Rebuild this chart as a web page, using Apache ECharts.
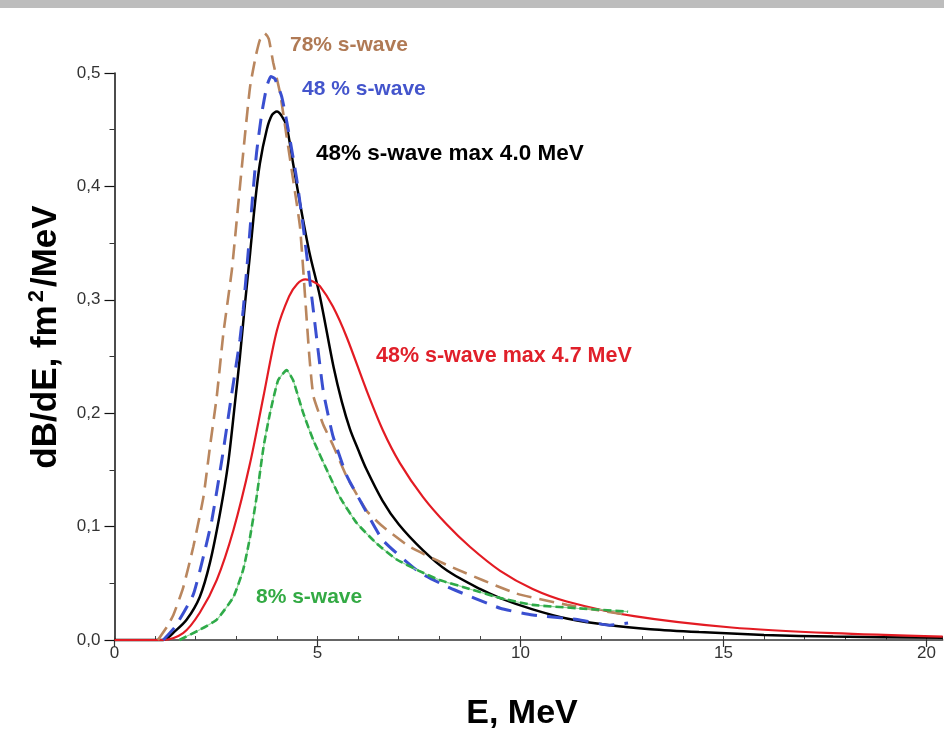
<!DOCTYPE html>
<html><head><meta charset="utf-8">
<script src="https://cdn.jsdelivr.net/npm/echarts@6/dist/echarts.min.js"></script>
<style>html,body{margin:0;padding:0;background:#fff}#c{width:944px;height:750px}</style>
</head><body><div id="c"></div>
<script>
// ---- data (E in MeV, dB/dE in fm^2/MeV) ----
const xTicks = [0, 5, 10, 15, 20];
const yTicks = [0, 0.1, 0.2, 0.3, 0.4, 0.5];

const blackE = [0, 1.2, 1.5, 1.78, 2.1, 2.35, 2.6, 2.8, 2.97, 3.09, 3.21, 3.34, 3.46, 3.58, 3.75, 3.88, 4.0, 4.12, 4.24, 4.4, 4.57, 4.8, 5.06, 5.4, 5.6, 5.8, 6.0, 6.2, 6.6, 7.0, 7.6, 8.2, 9.0, 9.5, 10.3, 11.14, 12.2, 13.2, 14.4, 16, 17.7, 20.4];
const blackV = [0, 0, 0.008, 0.018, 0.038, 0.068, 0.112, 0.156, 0.21, 0.25, 0.295, 0.341, 0.385, 0.42, 0.45, 0.463, 0.466, 0.462, 0.453, 0.42, 0.385, 0.342, 0.303, 0.24, 0.21, 0.186, 0.168, 0.151, 0.123, 0.102, 0.079, 0.061, 0.045, 0.037, 0.027, 0.019, 0.013, 0.0095, 0.007, 0.0045, 0.003, 0.002];

const redE = [0, 1.2, 1.69, 2.1, 2.52, 2.93, 3.34, 3.67, 4.0, 4.3, 4.5, 4.7, 4.9, 5.06, 5.38, 5.72, 6.21, 6.61, 7.03, 7.6, 8.18, 8.76, 9.5, 10.3, 11.14, 12.8, 15.2, 17.7, 20.4];
const redV = [0, 0, 0.006, 0.024, 0.053, 0.097, 0.156, 0.215, 0.273, 0.303, 0.314, 0.318, 0.316, 0.312, 0.294, 0.267, 0.22, 0.185, 0.156, 0.126, 0.102, 0.082, 0.061, 0.045, 0.034, 0.021, 0.011, 0.006, 0.003];

const brownE = [1.07, 1.3, 1.45, 1.69, 1.94, 2.19, 2.35, 2.52, 2.68, 2.89, 3.05, 3.21, 3.34, 3.48, 3.58, 3.7, 3.8, 3.91, 4.08, 4.24, 4.4, 4.57, 4.7, 4.8, 4.9, 5.14, 5.38, 5.72, 6.21, 6.61, 7.28, 8.26, 9.9, 11.14, 12.65];
const brownV = [0, 0.012, 0.022, 0.046, 0.082, 0.126, 0.17, 0.215, 0.27, 0.326, 0.385, 0.444, 0.488, 0.515, 0.529, 0.535, 0.53, 0.509, 0.482, 0.444, 0.406, 0.364, 0.3, 0.25, 0.215, 0.19, 0.172, 0.144, 0.114, 0.1, 0.082, 0.065, 0.041, 0.031, 0.022];

const blueE = [1.2, 1.5, 1.94, 2.2, 2.4, 2.65, 2.9, 3.09, 3.17, 3.3, 3.4, 3.5, 3.63, 3.75, 3.85, 3.95, 4.12, 4.28, 4.49, 4.65, 4.77, 4.9, 5.14, 5.38, 5.72, 6.05, 6.61, 7.5, 8.26, 9.5, 10.3, 11.4, 12.2, 12.65];
const blueV = [0, 0.012, 0.04, 0.075, 0.106, 0.16, 0.22, 0.265, 0.291, 0.345, 0.39, 0.43, 0.465, 0.488, 0.497, 0.495, 0.479, 0.45, 0.406, 0.364, 0.329, 0.29, 0.22, 0.18, 0.145, 0.123, 0.088, 0.06, 0.046, 0.028, 0.022, 0.018, 0.013, 0.015];

const greenE = [1.6, 2.1, 2.52, 2.93, 3.17, 3.34, 3.5, 3.67, 3.83, 4.03, 4.24, 4.4, 4.65, 4.9, 5.23, 5.55, 5.97, 6.46, 6.95, 7.5, 8.0, 8.75, 9.5, 10.3, 11.4, 12.65];
const greenV = [0, 0.009, 0.018, 0.038, 0.062, 0.091, 0.126, 0.17, 0.2, 0.229, 0.238, 0.229, 0.2, 0.176, 0.15, 0.126, 0.103, 0.085, 0.071, 0.061, 0.053, 0.045, 0.037, 0.031, 0.028, 0.025];

const labels = ["78% s-wave", "48 % s-wave", "48% s-wave max 4.0 MeV", "48% s-wave max 4.7 MeV", "8% s-wave"];
const xTitle = "E, MeV";
const yTitleParts = ["dB/dE, fm", "2", "/MeV"];

const zip = (a, b) => a.map((x, i) => [x, b[i]]);

const FONT = "'Liberation Sans', Arial, sans-serif";
const chart = echarts.init(document.getElementById('c'));
const xMin = 0, xMax = 20.4;

const option = {
  animation: false,
  backgroundColor: '#fff',
  grid: { left: 114.5, right: 944 - 114.5 - 828.2, top: 73, bottom: 110, containLabel: false },
  xAxis: [{
    type: 'value', min: xMin, max: xMax, interval: 5,
    axisLine: { show: true, onZero: false, lineStyle: { color: '#333', width: 1.5 } },
    axisTick: { show: true, inside: false, length: 7, lineStyle: { color: '#333', width: 1.2 } },
    minorTick: { show: false },
    splitLine: { show: false },
    axisLabel: { margin: 5, showMaxLabel: false, color: '#333', fontSize: 17, fontFamily: FONT,
      formatter: v => xTicks.includes(v) ? String(v) : '' }
  }, {
    type: 'value', min: xMin, max: xMax, interval: 1, position: 'bottom',
    axisLine: { show: false },
    axisTick: { show: true, inside: true, length: 4, lineStyle: { color: '#444', width: 1 } },
    splitLine: { show: false },
    axisLabel: { show: false }
  }],
  yAxis: [{
    type: 'value', min: 0, max: 0.5, interval: 0.1,
    axisLine: { show: true, lineStyle: { color: '#111', width: 1.5 } },
    axisTick: { show: true, inside: false, length: 10, lineStyle: { color: '#111', width: 1.2 } },
    minorTick: { show: true, splitNumber: 2, length: 5, lineStyle: { color: '#333', width: 1 } },
    splitLine: { show: false },
    axisLabel: { margin: 14, color: '#333', fontSize: 17, fontFamily: FONT,
      formatter: v => yTicks.some(t => Math.abs(t - v) < 1e-9) ? v.toFixed(1).replace('.', ',') : '' }
  }],
  series: [
    { name: 'black', type: 'line', data: zip(blackE, blackV), showSymbol: false, clip: false, smooth: 0.3, z: 3,
      lineStyle: { color: '#000', width: 2.5 } },
    { name: 'red', type: 'line', data: zip(redE, redV), showSymbol: false, clip: false, smooth: 0.3, z: 4,
      lineStyle: { color: '#e31b23', width: 2.2 } },
    { name: 'brown', type: 'line', data: zip(brownE, brownV), showSymbol: false, clip: false, smooth: 0.15, z: 5,
      lineStyle: { color: '#b9865e', width: 2.6, type: [15, 8] } },
    { name: 'blue', type: 'line', data: zip(blueE, blueV), showSymbol: false, clip: false, smooth: 0.15, z: 6,
      lineStyle: { color: '#3a4fd0', width: 3, type: [16, 10] } },
    { name: 'greenThin', type: 'line', data: zip(greenE, greenV), showSymbol: false, clip: false, smooth: 0.15, z: 6,
      lineStyle: { color: '#8fd89a', width: 1.2 } },
    { name: 'green', type: 'line', data: zip(greenE, greenV), showSymbol: false, clip: false, smooth: 0.15, z: 7,
      lineStyle: { color: '#2eaa48', width: 2.6, type: [8, 4] } }
  ],
  graphic: [
    { type: 'rect', shape: { x: 0, y: 0, width: 944, height: 8 }, style: { fill: '#bdbdbd' }, z: 10 },
    { type: 'text', x: 290, y: 45, style: { text: labels[0], fill: '#b07a55', font: 'bold 21px ' + FONT, verticalAlign: 'middle' } },
    { type: 'text', x: 302, y: 89, style: { text: labels[1], fill: '#4455cc', font: 'bold 21px ' + FONT, verticalAlign: 'middle' } },
    { type: 'text', x: 316, y: 154, style: { text: labels[2], fill: '#000', font: 'bold 22.5px ' + FONT, verticalAlign: 'middle' } },
    { type: 'text', x: 376, y: 356, style: { text: labels[3], fill: '#e0202a', font: 'bold 21.5px ' + FONT, verticalAlign: 'middle' } },
    { type: 'text', x: 256, y: 597, style: { text: labels[4], fill: '#33aa44', font: 'bold 21px ' + FONT, verticalAlign: 'middle' } },
    { type: 'text', x: 522, y: 714, style: { text: xTitle, fill: '#000', font: 'bold 34px ' + FONT, align: 'center', verticalAlign: 'middle' } },
    { type: 'text', x: 46, y: 337, rotation: Math.PI / 2, style: {
        text: '{a|' + yTitleParts[0] + '}{s|' + yTitleParts[1] + '}{a|' + yTitleParts[2] + '}',
        align: 'center', verticalAlign: 'middle',
        rich: {
          a: { fontFamily: FONT, fontWeight: 'bold', fontSize: 35, lineHeight: 40, fill: '#000', color: '#000' },
          s: { fontFamily: FONT, fontWeight: 'bold', fontSize: 22, lineHeight: 40, verticalAlign: 'top', padding: [0, 3, 14, 3], fill: '#000', color: '#000' }
        } } }
  ]
};
chart.setOption(option);
</script>
</body></html>
